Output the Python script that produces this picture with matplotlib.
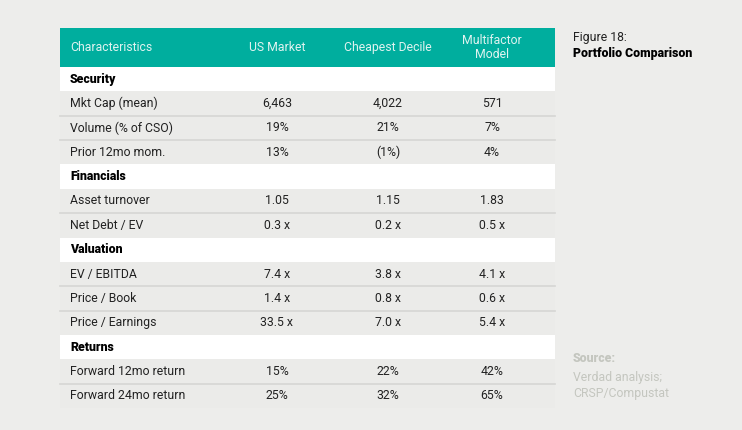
import matplotlib.pyplot as plt
from matplotlib.patches import Rectangle

# Table data
columns = ["Characteristics", "US Market", "Cheapest Decile", "Multifactor\nModel"]
sections = ["Security", "Financials", "Valuation", "Returns"]
section_rows = [
    ["Mkt Cap (mean)", "Volume (% of CSO)", "Prior 12mo mom."],
    ["Asset turnover", "Net Debt / EV"],
    ["EV / EBITDA", "Price / Book", "Price / Earnings"],
    ["Forward 12mo return", "Forward 24mo return"],
]
us_market = ["6,463", "19%", "13%", "1.05", "0.3 x", "7.4 x", "1.4 x", "33.5 x", "15%", "25%"]
cheapest_decile = ["4,022", "21%", "(1%)", "1.15", "0.2 x", "3.8 x", "0.8 x", "7.0 x", "22%", "32%"]
multifactor = ["571", "7%", "4%", "1.83", "0.5 x", "4.1 x", "0.6 x", "5.4 x", "42%", "65%"]

bg = "#ededeb"
teal = "#00ae9e"
row_grey = "#ebebe9"
sep = "#d6d6d4"
txt = "#222222"

plt.rcParams["font.family"] = ["Roboto", "DejaVu Sans"]

fig = plt.figure(figsize=(7.42, 4.30), dpi=100, facecolor=bg)
ax = fig.add_axes([0, 0, 1, 1])
ax.set_xlim(0, 742)
ax.set_ylim(430, 0)
ax.axis("off")

left, right = 60, 555
head_top, head_bot = 28, 67
rh = 24.36
col_x = [70, 277, 388, 492]
fs = 8.8

# header
ax.add_patch(Rectangle((left, head_top), right - left, head_bot - head_top, color=teal, lw=0))
ax.text(col_x[0], (head_top + head_bot) / 2, columns[0], color="#dff3f0", fontsize=fs, va="center")
for x, c in zip(col_x[1:], columns[1:]):
    ax.text(x, (head_top + head_bot) / 2, c, color="#dff3f0", fontsize=fs, va="center",
            ha="center", linespacing=1.05)

y = head_bot
k = 0
for sec, rows in zip(sections, section_rows):
    ax.add_patch(Rectangle((left, y), right - left, rh, color="white", lw=0))
    ax.text(col_x[0], y + rh / 2, sec, fontsize=fs, fontweight="black", color="black", va="center")
    y += rh
    for i, r in enumerate(rows):
        ax.add_patch(Rectangle((left, y), right - left, rh, color=row_grey, lw=0))
        if i > 0:
            ax.plot([left, right], [y, y], color=sep, lw=1.2)
        ax.text(col_x[0], y + rh / 2, r, fontsize=fs, color=txt, va="center")
        for x, vals in zip(col_x[1:], [us_market, cheapest_decile, multifactor]):
            ax.text(x, y + rh / 2, vals[k], fontsize=fs, color=txt, va="center", ha="center")
        y += rh
        k += 1

# side notes
ax.text(573, 37, "Figure 18:", fontsize=fs, color=txt, va="center")
ax.text(573, 54, "Portfolio Comparison", fontsize=fs, fontweight="black", color="black", va="center")
src = "#c4c6bf"
ax.text(573, 358, "Source:", fontsize=fs, fontweight="black", color=src, va="center")
ax.text(573, 377, "Verdad analysis;", fontsize=fs, color=src, va="center")
ax.text(573, 394, "CRSP/Compustat", fontsize=fs, color=src, va="center")

fig.savefig("out.png", dpi=100, facecolor=bg)
